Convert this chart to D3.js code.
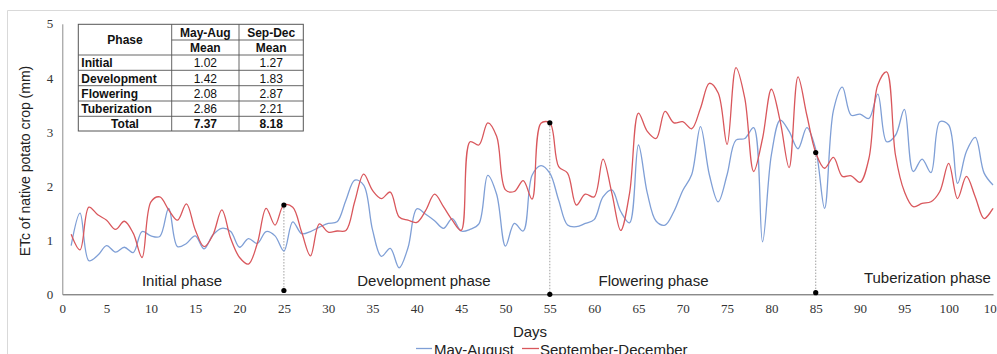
<!DOCTYPE html>
<html><head><meta charset="utf-8">
<script src="https://cdn.jsdelivr.net/npm/d3@7"></script>
<style>body{margin:0;background:#fff;overflow:hidden}svg{display:block}</style>
</head><body>
<script>
const days = d3.range(1, 106);
const mayAug = [0.90,1.50,0.62,0.72,0.90,0.78,0.87,0.77,1.16,1.08,1.07,1.59,0.88,0.94,1.08,0.84,1.10,1.22,1.16,0.87,1.03,0.94,1.16,1.08,0.80,1.34,1.12,1.16,1.24,1.31,1.34,1.74,2.11,2.02,1.19,0.70,0.85,0.49,0.86,1.58,1.48,1.36,1.22,1.40,1.17,1.20,1.30,2.20,1.85,0.89,1.31,1.17,2.20,2.38,2.24,1.74,1.28,1.25,1.31,1.38,1.80,1.93,1.53,1.32,2.76,1.87,1.35,1.28,1.53,1.92,2.21,3.10,2.21,1.71,2.21,2.85,2.88,3.08,0.97,2.58,3.22,3.01,2.69,3.08,2.68,1.59,3.40,3.83,3.31,3.33,3.25,3.70,2.82,2.94,3.42,2.27,2.50,2.25,3.19,3.13,2.05,2.64,2.90,2.24,2.02];
const sepDec = [1.11,0.82,1.61,1.47,1.37,1.20,1.35,1.13,0.68,1.71,1.80,1.56,1.37,1.67,1.19,0.88,1.10,1.56,1.03,0.68,0.56,0.94,1.59,1.28,1.65,1.61,1.15,0.71,1.30,1.15,1.17,1.18,1.72,2.22,1.92,1.77,1.89,1.43,1.37,1.33,1.55,1.85,1.62,1.37,1.18,2.82,2.76,3.17,2.92,1.93,1.90,2.10,1.76,3.16,3.17,2.36,2.24,1.65,1.85,1.80,2.50,1.87,1.18,1.87,3.35,3.01,2.88,3.38,3.17,3.19,3.06,3.44,3.90,3.72,2.77,4.19,3.62,2.27,2.88,3.79,3.19,2.34,4.02,3.31,2.62,2.33,2.53,2.18,2.19,2.07,2.51,3.87,4.11,2.57,1.90,1.62,1.68,1.71,1.90,2.42,1.77,2.18,1.80,1.40,1.59];
const xTicks = d3.range(0, 106, 5);
const yTicks = [0,1,2,3,4,5];
const phaseNames = ["Initial phase","Development phase","Flowering phase","Tuberization phase"];
const phaseLabelX = [13.5, 40.8, 66.7, 97.6];
const boundaryDays = [25, 55, 85];
const boundaryTop = [1.65, 3.17, 2.62];
const boundaryBottom = [0.07, 0.0, 0.03];
const tableHead1 = ["Phase","May-Aug","Sep-Dec"];
const tableHead2 = ["Mean","Mean"];
const tablePhases = ["Initial","Development","Flowering","Tuberization","Total"];
const tableMayAug = ["1.02","1.42","2.08","2.86","7.37"];
const tableSepDec = ["1.27","1.83","2.87","2.21","8.18"];
const seriesNames = ["May-August","September-December"];
const colors = ["#7f9fd6","#d9575c"];

const W = 997, H = 354;
const svg = d3.select("body").append("svg").attr("width", W).attr("height", H);

// chart frame
svg.append("path").attr("d","M7.5,354 V10.5 H997").attr("fill","none").attr("stroke","#d9d9d9");

const x = d3.scaleLinear().domain([0,105]).range([62.3, 993]);
const y = d3.scaleLinear().domain([0,5]).range([294.3, 23.8]);

// axes
const xAxis = svg.append("g").attr("transform",`translate(0,${y(0)})`)
  .call(d3.axisBottom(x).tickValues(xTicks).tickSize(0).tickPadding(9));
xAxis.select(".domain").attr("stroke","#595959");
xAxis.selectAll("text").attr("font-family","'Liberation Serif', serif").attr("font-size",13).attr("fill","#333");

const yAxis = svg.append("g").attr("transform",`translate(${x(0)},0)`)
  .call(d3.axisLeft(y).tickValues(yTicks).tickSize(0).tickPadding(9).tickFormat(d3.format("d")));
yAxis.select(".domain").attr("stroke","#8c8c8c");
yAxis.selectAll("text").attr("font-family","'Liberation Serif', serif").attr("font-size",13).attr("fill","#333");

// axis titles
svg.append("text").attr("transform",`translate(30,${(y(0)+y(5))/2+2}) rotate(-90)`)
  .attr("text-anchor","middle").attr("font-family","'Liberation Sans', Arial, sans-serif")
  .attr("font-size",14).attr("fill","#222").text("ETc of native potato crop (mm)");
svg.append("text").attr("x",530).attr("y",337).attr("text-anchor","middle")
  .attr("font-family","'Liberation Sans', Arial, sans-serif").attr("font-size",15).attr("fill","#222").text("Days");

// phase boundary markers
boundaryDays.forEach((d,i)=>{
  svg.append("line").attr("x1",x(d)).attr("x2",x(d)).attr("y1",y(boundaryTop[i])).attr("y2",y(boundaryBottom[i]))
    .attr("stroke","#888").attr("stroke-width",0.8).attr("stroke-dasharray","1.5,1.5");
});

// lines
const line = d3.line().x((d,i)=>x(days[i])).y(d=>y(d)).curve(d3.curveCatmullRom.alpha(0.5));
[mayAug, sepDec].forEach((s,k)=>{
  svg.append("path").datum(s).attr("d",line).attr("fill","none").attr("stroke",colors[k]).attr("stroke-width",1.3);
});

boundaryDays.forEach((d,i)=>{
  svg.append("circle").attr("cx",x(d)).attr("cy",y(boundaryTop[i])).attr("r",2.6).attr("fill","#000");
  svg.append("circle").attr("cx",x(d)).attr("cy",y(boundaryBottom[i])).attr("r",2.6).attr("fill","#000");
});

// phase labels
phaseNames.forEach((p,i)=>{
  svg.append("text").attr("x",x(phaseLabelX[i])).attr("y", i===3 ? 283 : 286).attr("text-anchor","middle")
    .attr("font-family","'Liberation Sans', Arial, sans-serif").attr("font-size",15).attr("fill","#222").text(p);
});

// table
const tb = svg.append("g");
const tx = [78.3, 171.7, 239, 303.3];
const ty = [24.3, 40, 55, 70.3, 85.7, 101, 116.3, 131];
tb.append("rect").attr("x",tx[0]).attr("y",ty[0]).attr("width",tx[3]-tx[0]).attr("height",ty[7]-ty[0])
  .attr("fill","#fff").attr("stroke","#555").attr("stroke-width",1);
const ln = (x1,y1,x2,y2)=>tb.append("line").attr("x1",x1).attr("y1",y1).attr("x2",x2).attr("y2",y2).attr("stroke","#555").attr("stroke-width",0.9);
ln(tx[1],ty[0],tx[1],ty[7]); ln(tx[2],ty[0],tx[2],ty[7]);
ln(tx[1],ty[1],tx[3],ty[1]);
for(let r=2;r<7;r++) ln(tx[0],ty[r],tx[3],ty[r]);
const tt = (xx,yy,str,bold,anchor)=>tb.append("text").attr("x",xx).attr("y",yy).attr("text-anchor",anchor||"middle")
  .attr("font-family","'Liberation Sans', Arial, sans-serif").attr("font-size",12).attr("font-weight",bold?"bold":"normal")
  .attr("fill","#111").text(str);
tt((tx[0]+tx[1])/2, (ty[0]+ty[2])/2+4.5, tableHead1[0], true);
tt((tx[1]+tx[2])/2, (ty[0]+ty[1])/2+4.5, tableHead1[1], true);
tt((tx[2]+tx[3])/2, (ty[0]+ty[1])/2+4.5, tableHead1[2], true);
tt((tx[1]+tx[2])/2, (ty[1]+ty[2])/2+4.5, tableHead2[0], true);
tt((tx[2]+tx[3])/2, (ty[1]+ty[2])/2+4.5, tableHead2[1], true);
tablePhases.forEach((p,i)=>{
  const yy = (ty[i+2]+ty[i+3])/2+4.5;
  const isTotal = i===4;
  if(isTotal) tt((tx[0]+tx[1])/2, yy, p, true);
  else tt(tx[0]+3, yy, p, true, "start");
  tt((tx[1]+tx[2])/2, yy, tableMayAug[i], isTotal);
  tt((tx[2]+tx[3])/2, yy, tableSepDec[i], isTotal);
});

// legend
const lg = svg.append("g");
lg.append("line").attr("x1",416).attr("x2",432).attr("y1",348.5).attr("y2",348.5).attr("stroke",colors[0]).attr("stroke-width",1.3);
lg.append("text").attr("x",434).attr("y",355).attr("font-family","'Liberation Sans', Arial, sans-serif").attr("font-size",15).attr("fill","#222").text(seriesNames[0]);
lg.append("line").attr("x1",522).attr("x2",539).attr("y1",348.5).attr("y2",348.5).attr("stroke",colors[1]).attr("stroke-width",1.3);
lg.append("text").attr("x",540).attr("y",355).attr("font-family","'Liberation Sans', Arial, sans-serif").attr("font-size",15).attr("fill","#222").text(seriesNames[1]);
</script>
</body></html>
